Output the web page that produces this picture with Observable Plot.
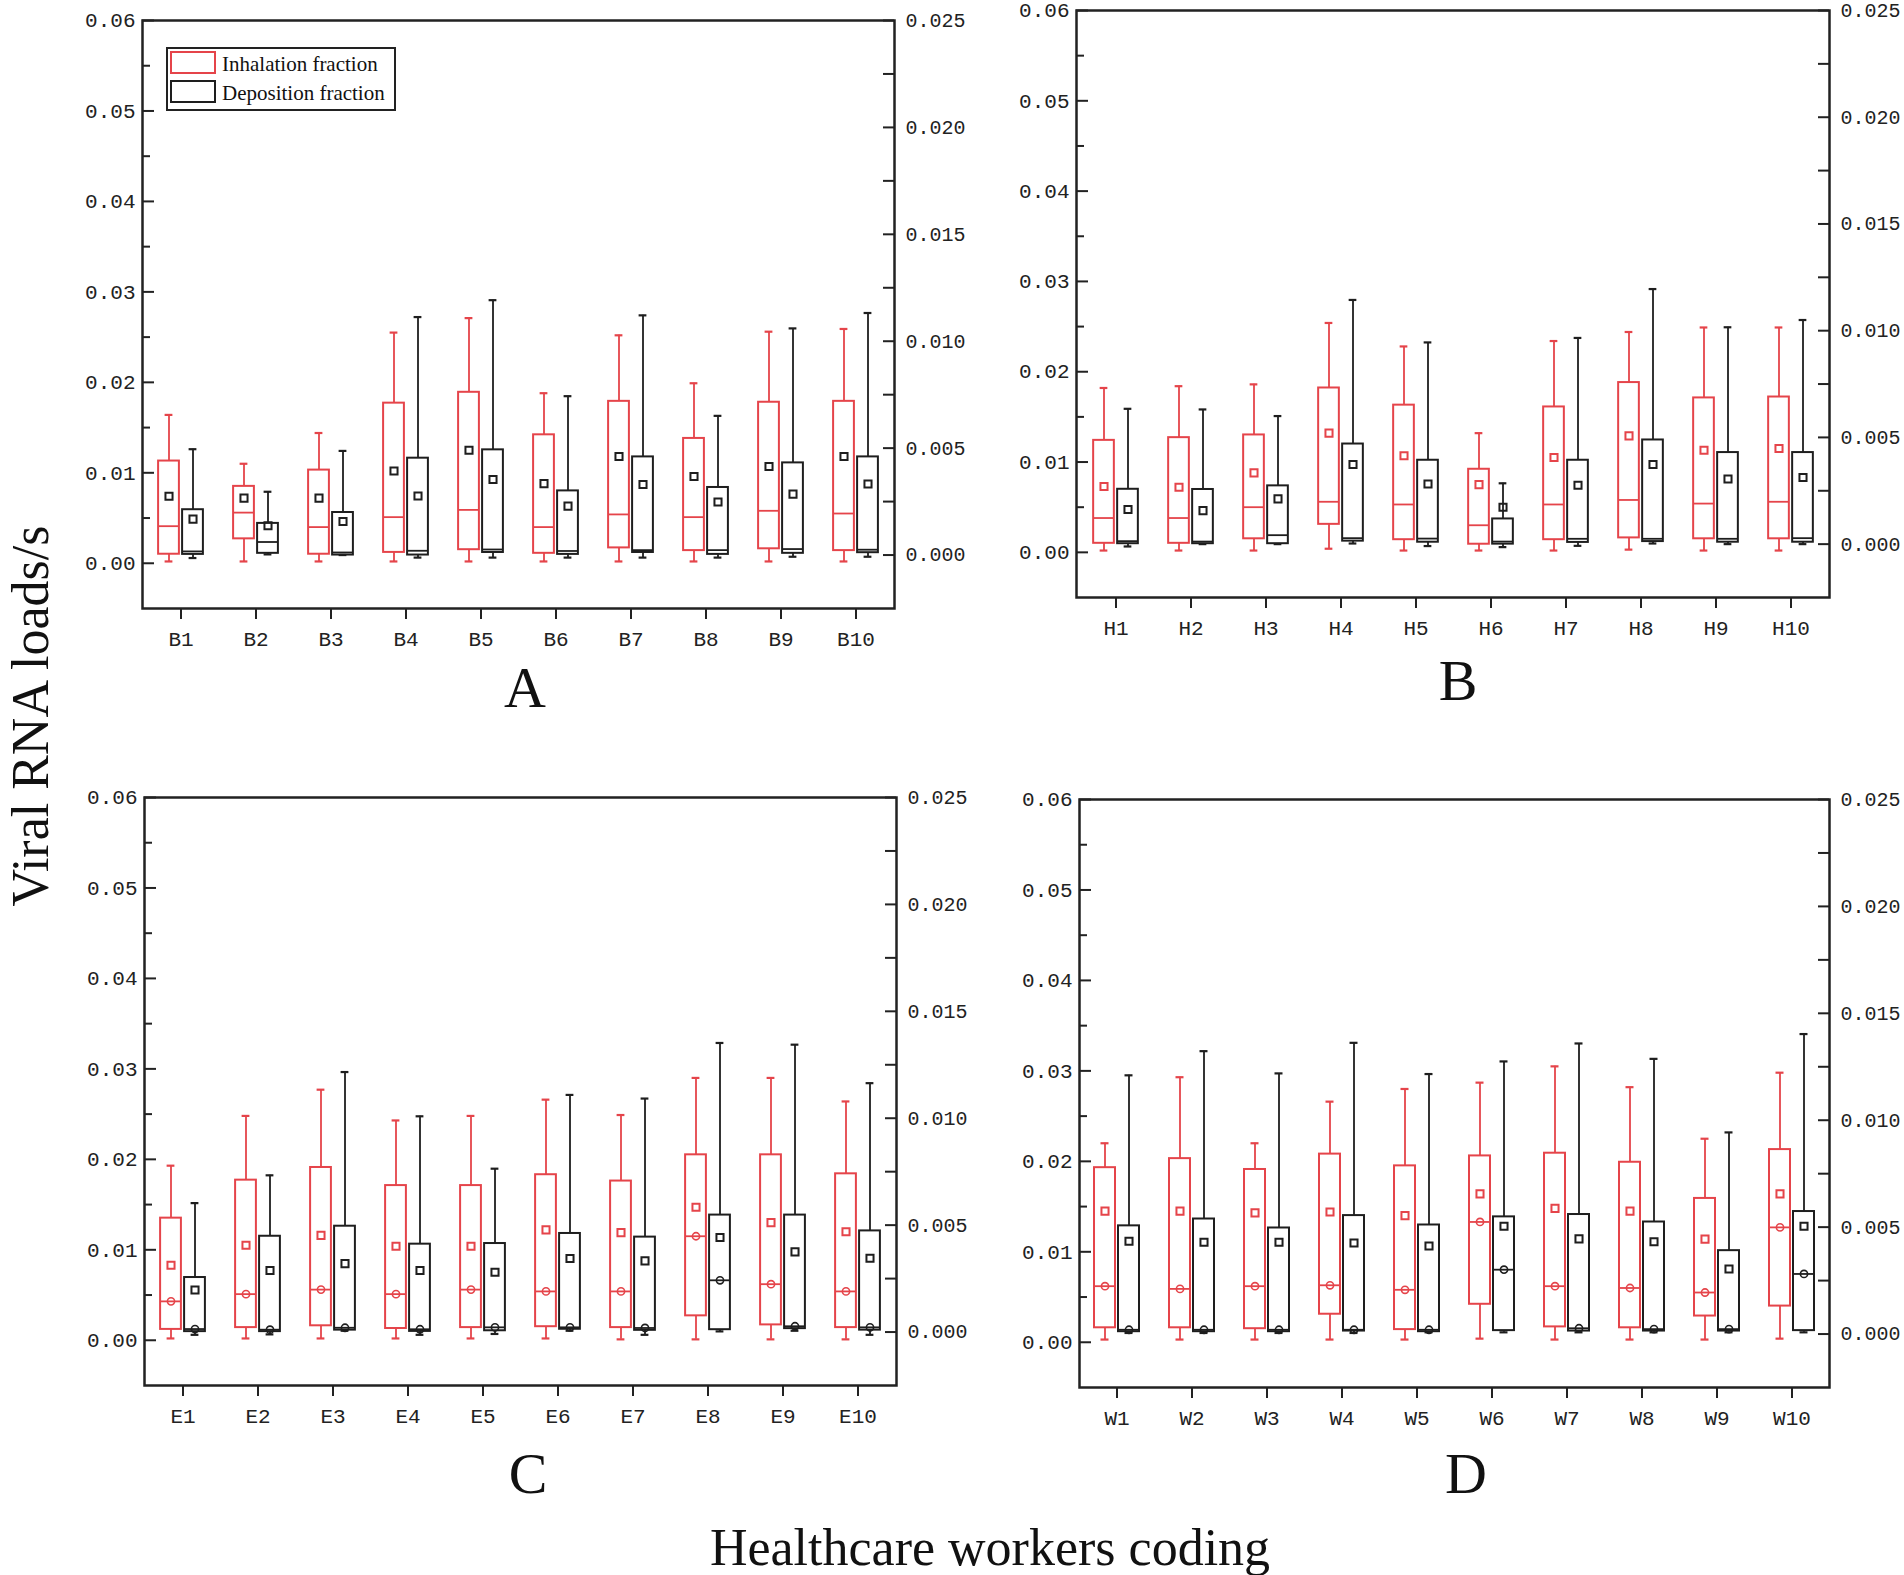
<!DOCTYPE html>
<html><head><meta charset="utf-8">
<script src="https://cdn.jsdelivr.net/npm/d3@7"></script>
<script src="https://cdn.jsdelivr.net/npm/@observablehq/plot@0.6"></script>
<style>
body{margin:0;background:#fff;}
#root{position:relative;width:1904px;height:1575px;overflow:hidden;background:#fff;}
.plab{position:absolute;font-family:"Liberation Serif","Times New Roman",serif;font-size:58px;color:#111;transform:translate(-50%,-50%);line-height:1;white-space:nowrap;}
.ttl{position:absolute;font-family:"Liberation Serif","Times New Roman",serif;font-size:52px;color:#111;line-height:1;white-space:nowrap;}
#legend{position:absolute;left:166px;top:47px;width:226px;height:60px;border:2px solid #222;background:#fff;font-family:"Liberation Serif","Times New Roman",serif;font-size:21px;color:#111;}
.sw{position:absolute;left:2px;width:42px;height:19px;}
.lt{position:absolute;left:54px;line-height:1;white-space:nowrap;}
</style></head><body><div id="root"></div>
<script>
// ---------------- data ----------------
const catsA = ["B1","B2","B3","B4","B5","B6","B7","B8","B9","B10"];
const catsB = ["H1","H2","H3","H4","H5","H6","H7","H8","H9","H10"];
const catsC = ["E1","E2","E3","E4","E5","E6","E7","E8","E9","E10"];
const catsD = ["W1","W2","W3","W4","W5","W6","W7","W8","W9","W10"];

// Panel A – inhalation fraction (left axis)
const A_inh_min  = [0.0002,0.0002,0.0002,0.0002,0.0002,0.0002,0.0002,0.0002,0.0002,0.0002];
const A_inh_q1   = [0.0010,0.0027,0.0010,0.0012,0.0015,0.0011,0.0017,0.0014,0.0016,0.0014];
const A_inh_med  = [0.0041,0.0056,0.0040,0.0051,0.0059,0.0040,0.0054,0.0051,0.0058,0.0055];
const A_inh_q3   = [0.0113,0.0085,0.0103,0.0177,0.0189,0.0142,0.0179,0.0138,0.0178,0.0179];
const A_inh_max  = [0.0164,0.0110,0.0144,0.0255,0.0271,0.0188,0.0252,0.0199,0.0256,0.0259];
const A_inh_mean = [0.0074,0.0072,0.0072,0.0102,0.0125,0.0088,0.0118,0.0096,0.0107,0.0118];
// Panel A – deposition fraction (right axis)
const A_dep_min  = [-0.00014,0.00003,0.0000,-0.00012,-0.00012,-0.00012,-0.00012,-0.00012,-0.00008,-0.00008];
const A_dep_q1   = [0.00003,0.00008,0.0000,0.0000,0.00012,0.00003,0.00012,0.00003,0.00008,0.00011];
const A_dep_med  = [0.00017,0.00061,0.00012,0.00020,0.00026,0.00019,0.00023,0.00023,0.00028,0.00025];
const A_dep_q3   = [0.00212,0.00148,0.00199,0.00453,0.00492,0.00300,0.00459,0.00316,0.00431,0.00459];
const A_dep_max  = [0.00495,0.00296,0.00487,0.01113,0.01192,0.00743,0.01121,0.00651,0.01060,0.01132];
const A_dep_mean = [0.00168,0.00137,0.00157,0.00276,0.00353,0.00229,0.00330,0.00248,0.00285,0.00332];

// Panel B
const B_inh_min  = [0.0002,0.0002,0.0002,0.0004,0.0002,0.0002,0.0002,0.0003,0.0002,0.0002];
const B_inh_q1   = [0.0010,0.0010,0.0015,0.0031,0.0014,0.0009,0.0014,0.0016,0.0015,0.0015];
const B_inh_med  = [0.0038,0.0038,0.0050,0.0056,0.0053,0.0030,0.0053,0.0058,0.0054,0.0056];
const B_inh_q3   = [0.0124,0.0127,0.0130,0.0182,0.0163,0.0092,0.0161,0.0188,0.0171,0.0172];
const B_inh_max  = [0.0182,0.0184,0.0186,0.0254,0.0228,0.0132,0.0234,0.0244,0.0249,0.0249];
const B_inh_mean = [0.0073,0.0072,0.0088,0.0132,0.0107,0.0075,0.0105,0.0129,0.0113,0.0115];
const B_dep_min  = [-0.00011,0.0000,0.0000,0.00003,-0.00009,-0.00014,-0.00008,0.00003,0.0000,0.0000];
const B_dep_q1   = [0.00002,0.00002,0.00002,0.00014,0.00009,0.0000,0.00008,0.00012,0.00009,0.00009];
const B_dep_med  = [0.00014,0.00012,0.00042,0.00028,0.00026,0.00012,0.00025,0.00025,0.00025,0.00028];
const B_dep_q3   = [0.00257,0.00256,0.00273,0.00469,0.00393,0.00118,0.00393,0.00488,0.00429,0.00429];
const B_dep_max  = [0.00634,0.00631,0.00600,0.01144,0.00945,0.00285,0.00966,0.01195,0.01016,0.01050];
const B_dep_mean = [0.00162,0.00157,0.00212,0.00373,0.00282,0.00173,0.00276,0.00373,0.00305,0.00312];

// Panel C
const C_inh_min  = [0.0002,0.0002,0.0002,0.0002,0.0002,0.0002,0.0001,0.0001,0.0001,0.0001];
const C_inh_q1   = [0.0012,0.0014,0.0016,0.0013,0.0014,0.0015,0.0014,0.0027,0.0017,0.0014];
const C_inh_med  = [0.0043,0.0051,0.0056,0.0051,0.0056,0.0054,0.0054,0.0115,0.0062,0.0054];
const C_inh_q3   = [0.0135,0.0177,0.0191,0.0171,0.0171,0.0183,0.0176,0.0205,0.0205,0.0184];
const C_inh_max  = [0.0193,0.0248,0.0277,0.0243,0.0248,0.0266,0.0249,0.0290,0.0290,0.0264];
const C_inh_mean = [0.0083,0.0105,0.0116,0.0104,0.0104,0.0122,0.0119,0.0147,0.0130,0.0120];
const C_dep_min  = [-0.00013,-0.00011,0.00006,-0.00013,-0.00009,0.00006,-0.00013,0.00003,0.00006,-0.00013];
const C_dep_q1   = [0.00002,0.00002,0.00009,0.00003,0.00006,0.00013,0.00008,0.00011,0.00016,0.00009];
const C_dep_med  = [0.00014,0.00011,0.00020,0.00013,0.00022,0.00022,0.00019,0.00242,0.00027,0.00022];
const C_dep_q3   = [0.00255,0.00448,0.00495,0.00411,0.00414,0.00461,0.00444,0.00547,0.00547,0.00473];
const C_dep_max  = [0.00603,0.00733,0.01216,0.01009,0.00764,0.01109,0.01092,0.01352,0.01344,0.01164];
const C_dep_mean = [0.00197,0.00288,0.00320,0.00288,0.00280,0.00344,0.00333,0.00442,0.00375,0.00345];

// Panel D
const D_inh_min  = [0.0003,0.0003,0.0003,0.0003,0.0003,0.0004,0.0003,0.0003,0.0003,0.0004];
const D_inh_q1   = [0.0016,0.0016,0.0015,0.0031,0.0014,0.0042,0.0017,0.0016,0.0029,0.0040];
const D_inh_med  = [0.0062,0.0059,0.0062,0.0063,0.0058,0.0133,0.0062,0.0060,0.0055,0.0127];
const D_inh_q3   = [0.0193,0.0203,0.0191,0.0208,0.0195,0.0206,0.0209,0.0199,0.0159,0.0213];
const D_inh_max  = [0.0220,0.0293,0.0220,0.0266,0.0280,0.0287,0.0305,0.0282,0.0225,0.0298];
const D_inh_mean = [0.0145,0.0145,0.0143,0.0144,0.0140,0.0164,0.0148,0.0145,0.0114,0.0164];
const D_dep_min  = [0.00005,0.00005,0.00005,0.00005,0.00008,0.00008,0.00008,0.00008,0.00008,0.00008];
const D_dep_q1   = [0.00011,0.00011,0.00011,0.00014,0.00011,0.00016,0.00014,0.00014,0.00014,0.00016];
const D_dep_med  = [0.00020,0.00020,0.00020,0.00020,0.00020,0.00301,0.00027,0.00023,0.00023,0.00281];
const D_dep_q3   = [0.00506,0.00538,0.00496,0.00554,0.00510,0.00548,0.00559,0.00524,0.00390,0.00573];
const D_dep_max  = [0.01210,0.01323,0.01219,0.01362,0.01216,0.01275,0.01359,0.01287,0.00943,0.01403];
const D_dep_mean = [0.00434,0.00429,0.00429,0.00426,0.00412,0.00504,0.00445,0.00432,0.00304,0.00504];

// axis ticks
const leftMajor  = [0, 0.01, 0.02, 0.03, 0.04, 0.05, 0.06];
const leftMinor  = [0.005, 0.015, 0.025, 0.035, 0.045, 0.055];
const rightMajor = [0, 0.005, 0.01, 0.015, 0.02, 0.025];
const rightMinor = [0.0025, 0.0075, 0.0125, 0.0175, 0.0225];

const seriesNames = ["Inhalation fraction", "Deposition fraction"];
const panelLetters = ["A", "B", "C", "D"];
const xTitle = "Healthcare workers coding";
const yTitle = "Viral RNA loads/s";

// ---------------- drawing ----------------
const RED = "#e5444a", BLK = "#1e1e1e", AX = "#222";
const MONO = "'Liberation Mono','DejaVu Sans Mono',monospace";
const root = document.getElementById("root");

function rows(cats, mn, q1, md, q3, mx, mean) {
  return cats.map((c, i) => ({cat: c, min: mn[i], q1: q1[i], med: md[i], q3: q3[i], max: mx[i], mean: mean[i]}));
}

function boxMarks(data, bw, side, color, meanColor, medDots) {
  const s = side; // -1 left (red), +1 right (black)
  const box = s < 0 ? {insetLeft: bw/2 - 22.5, insetRight: bw/2 + 1.5} : {insetLeft: bw/2 + 1.5, insetRight: bw/2 - 22.5};
  const cap = s < 0 ? {insetLeft: bw/2 - 16, insetRight: bw/2 + 8} : {insetLeft: bw/2 + 8, insetRight: bw/2 - 16};
  const dx = 12 * s;
  const m = [
    Plot.ruleX(data, {x: "cat", y1: "q3", y2: "max", dx, stroke: color, strokeWidth: 1.8}),
    Plot.ruleX(data, {x: "cat", y1: "min", y2: "q1", dx, stroke: color, strokeWidth: 1.8}),
    Plot.tickY(data, {x: "cat", y: "max", ...cap, stroke: color, strokeWidth: 2.2}),
    Plot.tickY(data, {x: "cat", y: "min", ...cap, stroke: color, strokeWidth: 2.2}),
    Plot.barY(data, {x: "cat", y1: "q1", y2: "q3", ...box, fill: "none", stroke: color, strokeWidth: 2}),
    Plot.tickY(data, {x: "cat", y: "med", ...box, stroke: color, strokeWidth: 1.8}),
    Plot.dot(data, {x: "cat", y: "mean", dx, symbol: "square", r: 4, fill: "none", stroke: meanColor, strokeWidth: 2})
  ];
  if (medDots) m.push(Plot.dot(data, {x: "cat", y: "med", dx, r: 3.6, fill: "none", stroke: color, strokeWidth: 1.6}));
  return m;
}

function makePanel(p) {
  const fw = p.right - p.left, fh = p.bottom - p.top;
  const mL = 100, mR = 120, mT = 20, mB = 70;
  const W = fw + mL + mR, H = fh + mT + mB;
  const bw = fw / p.cats.length;
  const inh = rows(p.cats, ...p.inh), dep = rows(p.cats, ...p.dep);
  const common = {width: W, height: H, marginLeft: mL, marginRight: mR, marginTop: mT, marginBottom: mB,
    style: {background: "transparent", overflow: "visible", fontFamily: MONO, color: AX, maxWidth: "none"}};

  const svg1 = Plot.plot({...common,
    x: {type: "band", domain: p.cats, padding: 0},
    y: {domain: [-0.005, 0.06]},
    marks: [
      Plot.axisX({anchor: "bottom", tickSize: 11, tickPadding: 12, fontSize: 21, fontFamily: MONO, strokeWidth: 2, label: null}),
      Plot.axisY({anchor: "left", ticks: leftMajor, tickSize: 0, tickPadding: 7, tickFormat: d3.format(".2f"), fontSize: 21, fontFamily: MONO, label: null}),
      Plot.tickY(leftMajor, {y: d => d, insetRight: fw - 12, stroke: AX, strokeWidth: 2}),
      Plot.tickY(leftMinor, {y: d => d, insetRight: fw - 8, stroke: AX, strokeWidth: 2}),
      ...boxMarks(inh, bw, -1, RED, p.redMean, p.medDots),
      Plot.frame({stroke: AX, strokeWidth: 2.5})
    ]});
  const svg2 = Plot.plot({...common,
    x: {type: "band", domain: p.cats, padding: 0, axis: null},
    y: {domain: [-0.0025, 0.025]},
    marks: [
      Plot.axisY({anchor: "right", ticks: rightMajor, tickSize: 0, tickPadding: 11, tickFormat: d3.format(".3f"), fontSize: 20, fontFamily: MONO, label: null}),
      Plot.tickY(rightMajor, {y: d => d, insetLeft: fw - 11, stroke: AX, strokeWidth: 2}),
      Plot.tickY(rightMinor, {y: d => d, insetLeft: fw - 11, stroke: AX, strokeWidth: 2}),
      ...boxMarks(dep, bw, 1, BLK, BLK, p.medDots)
    ]});
  for (const s of [svg1, svg2]) {
    s.style.position = "absolute";
    s.style.left = (p.left - mL) + "px";
    s.style.top = (p.top - mT) + "px";
    root.appendChild(s);
  }
  const lab = document.createElement("div");
  lab.className = "plab";
  lab.textContent = p.letter;
  lab.style.left = p.lx + "px"; lab.style.top = p.ly + "px";
  root.appendChild(lab);
}

makePanel({cats: catsA, left: 142, right: 894, top: 20, bottom: 608, letter: panelLetters[0], lx: 525, ly: 688,
  inh: [A_inh_min, A_inh_q1, A_inh_med, A_inh_q3, A_inh_max, A_inh_mean],
  dep: [A_dep_min, A_dep_q1, A_dep_med, A_dep_q3, A_dep_max, A_dep_mean], redMean: BLK, medDots: false});
makePanel({cats: catsB, left: 1076, right: 1829, top: 10, bottom: 597, letter: panelLetters[1], lx: 1458, ly: 681,
  inh: [B_inh_min, B_inh_q1, B_inh_med, B_inh_q3, B_inh_max, B_inh_mean],
  dep: [B_dep_min, B_dep_q1, B_dep_med, B_dep_q3, B_dep_max, B_dep_mean], redMean: RED, medDots: false});
makePanel({cats: catsC, left: 144, right: 896, top: 797, bottom: 1385, letter: panelLetters[2], lx: 528, ly: 1474,
  inh: [C_inh_min, C_inh_q1, C_inh_med, C_inh_q3, C_inh_max, C_inh_mean],
  dep: [C_dep_min, C_dep_q1, C_dep_med, C_dep_q3, C_dep_max, C_dep_mean], redMean: RED, medDots: true});
makePanel({cats: catsD, left: 1079, right: 1829, top: 799, bottom: 1387, letter: panelLetters[3], lx: 1466, ly: 1474,
  inh: [D_inh_min, D_inh_q1, D_inh_med, D_inh_q3, D_inh_max, D_inh_mean],
  dep: [D_dep_min, D_dep_q1, D_dep_med, D_dep_q3, D_dep_max, D_dep_mean], redMean: RED, medDots: true});

// legend
const lg = document.createElement("div");
lg.id = "legend";
lg.innerHTML = `<div class="sw" style="top:2px;border:2px solid ${RED}"></div><div class="lt" style="top:5px">${seriesNames[0]}</div>
<div class="sw" style="top:31px;border:2px solid ${BLK}"></div><div class="lt" style="top:34px">${seriesNames[1]}</div>`;
root.appendChild(lg);

// titles
const yt = document.createElement("div");
yt.className = "ttl"; yt.textContent = yTitle;
yt.style.left = "31px"; yt.style.top = "716px";
yt.style.transform = "translate(-50%,-50%) rotate(-90deg)";
root.appendChild(yt);
const xt = document.createElement("div");
xt.className = "ttl"; xt.textContent = xTitle;
xt.style.left = "990px"; xt.style.top = "1548px";
xt.style.transform = "translate(-50%,-50%)";
root.appendChild(xt);
</script></body></html>
